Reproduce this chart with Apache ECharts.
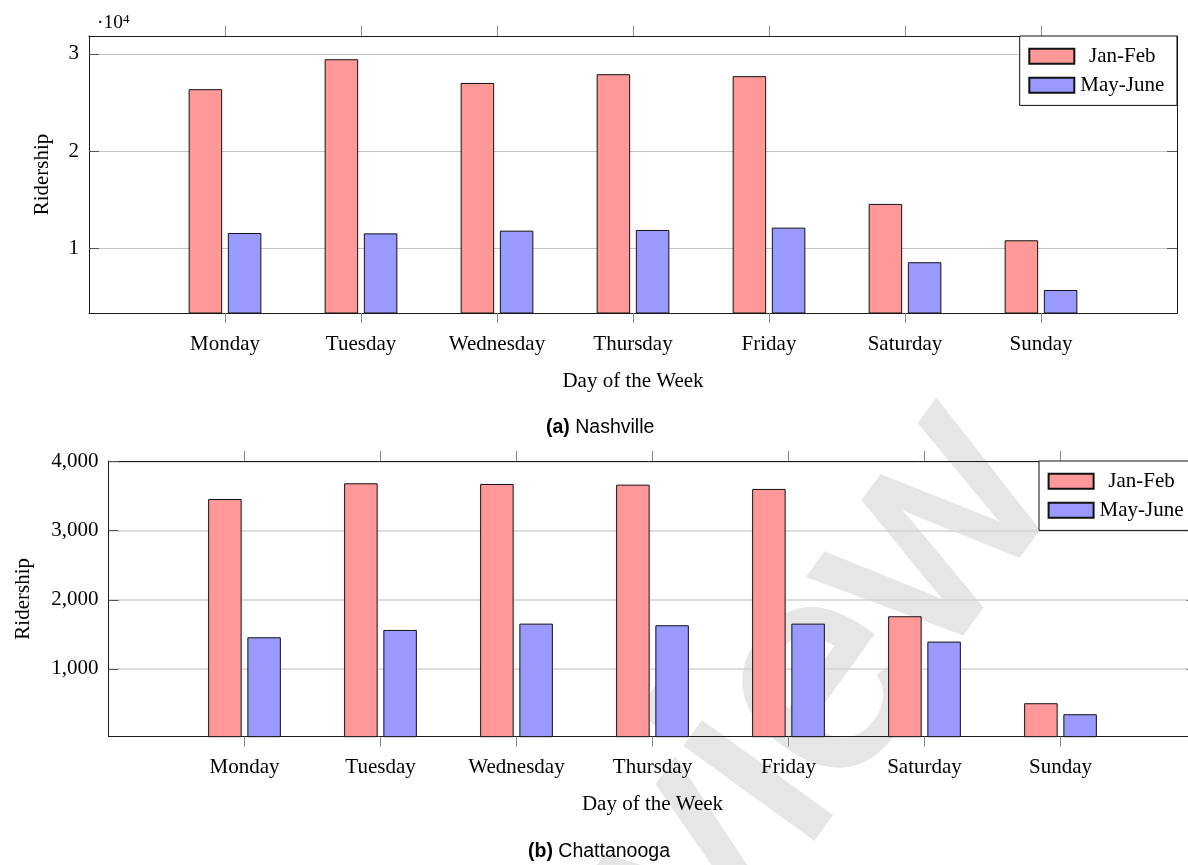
<!DOCTYPE html>
<html>
<head>
<meta charset="utf-8">
<script src="https://cdn.jsdelivr.net/npm/echarts@6/dist/echarts.min.js"></script>
<style>
html,body{margin:0;padding:0;background:#fff;}
#chart{width:1188px;height:865px;}
</style>
</head>
<body>
<div id="chart"></div>
<script>
// ---- data ----
var days = ['Monday', 'Tuesday', 'Wednesday', 'Thursday', 'Friday', 'Saturday', 'Sunday'];
var seriesNames = ['Jan-Feb', 'May-June'];
var nashvilleJanFeb = [26370, 29450, 27010, 27910, 27710, 14570, 10830];
var nashvilleMayJune = [11580, 11540, 11820, 11890, 12130, 8570, 5720];
var chattJanFeb = [3458, 3685, 3675, 3665, 3603, 1762, 504];
var chattMayJune = [1458, 1564, 1655, 1632, 1655, 1395, 345];
var nashvilleTicks = [10000, 20000, 30000];
var chattTicks = [1000, 2000, 3000, 4000];
var captionA = ['(a)', 'Nashville'];
var captionB = ['(b)', 'Chattanooga'];
var xTitle = 'Day of the Week';
var yTitle = 'Ridership';
var watermark = 'Review';

// ---- styles ----
var SERIF = 'Liberation Serif';
var SANS = 'Liberation Sans';
var PINK = '#ff9999';
var BLUE = '#9999ff';
var FS = 21;

var padCats = [''].concat(days).concat(['']);
function pad(arr) { return ['-'].concat(arr).concat(['-']); }
var n = days.length;
function tickShow(i) { return i > 0 && i < n + 1; }

function xAxes(gridIndex) {
  var common = {
    type: 'category', gridIndex: gridIndex, data: padCats, boundaryGap: false,
    axisLine: { show: true, lineStyle: { color: '#1a1a1a', width: 1 } },
    axisTick: { show: true, interval: tickShow, length: 10, lineStyle: { color: '#8a8a8a', width: 1 } },
    splitLine: { show: false }
  };
  var bottom = Object.assign({}, common, {
    position: 'bottom',
    axisLabel: { interval: 0, margin: 20.5, color: '#000', fontFamily: SERIF, fontSize: FS },
    name: xTitle, nameLocation: 'middle', nameGap: 57.5,
    nameTextStyle: { color: '#000', fontFamily: SERIF, fontSize: FS }
  });
  var top = Object.assign({}, common, { position: 'top', axisLabel: { show: false } });
  return [bottom, top];
}

function yAxes(gridIndex, min, max, ticks, fmt, nameGap, gridColor, gridWidth) {
  var left = {
    type: 'value', gridIndex: gridIndex, position: 'left', min: min, max: max,
    axisLine: { show: true, lineStyle: { color: '#1a1a1a', width: 1 } },
    axisTick: { show: true, inside: true, length: 10, customValues: ticks, lineStyle: { color: '#555', width: 1 } },
    axisLabel: { customValues: ticks, formatter: fmt, margin: 10, color: '#000', fontFamily: SERIF, fontSize: FS },
    splitLine: { show: true, lineStyle: { color: gridColor, width: gridWidth } },
    name: yTitle, nameLocation: 'middle', nameGap: nameGap,
    nameTextStyle: { color: '#000', fontFamily: SERIF, fontSize: FS }
  };
  var right = {
    type: 'value', gridIndex: gridIndex, position: 'right', min: min, max: max,
    axisLine: { show: true, lineStyle: { color: '#1a1a1a', width: 1 } },
    axisTick: { show: true, inside: true, length: 10, customValues: ticks, lineStyle: { color: '#555', width: 1 } },
    axisLabel: { show: false, customValues: ticks },
    splitLine: { show: false }
  };
  return [left, right];
}

function bar(name, color, data, xi, yi) {
  return {
    type: 'bar', name: name, xAxisIndex: xi, yAxisIndex: yi, data: pad(data),
    barWidth: 33.5, barGap: '17%',
    itemStyle: { color: color, borderColor: '#111', borderWidth: 1 },
    emphasis: { disabled: true }, animation: false
  };
}

function legend(left, top) {
  return {
    orient: 'vertical', left: left, top: top,
    data: seriesNames,
    itemWidth: 45, itemHeight: 15, itemGap: 8,
    padding: [9.7, 12.7, 9.7, 8.6],
    backgroundColor: '#fff', borderColor: '#111', borderWidth: 1,
    icon: 'rect',
    selectedMode: false,
    formatter: '{t|{name}}',
    textStyle: {
      color: '#000', fontFamily: SERIF, fontSize: FS,
      rich: { t: { width: 86, align: 'center', fontFamily: SERIF, fontSize: FS, color: '#000' } }
    }
  };
}

var chart = echarts.init(document.getElementById('chart'), null, { renderer: 'canvas' });
var xa0 = xAxes(0), xa1 = xAxes(1);
var ya0 = yAxes(0, 3350, 31840, nashvilleTicks, function (v) { return String(v / 10000); }, 36, '#c4c4c4', 1);
var ya1 = yAxes(1, 20, 4007, chattTicks, function (v) { return v.toLocaleString('en-US'); }, 75, '#d2d2d2', 1.5);

var option = {
  backgroundColor: '#fff',
  animation: false,
  textStyle: { fontFamily: SERIF },
  grid: [
    { left: 89, top: 36, width: 1088, height: 277, containLabel: false, outerBoundsMode: 'none' },
    { left: 108.5, top: 461, width: 1088, height: 275.7, containLabel: false, outerBoundsMode: 'none' }
  ],
  title: [
    { text: '{b|' + captionA[0] + '} ' + captionA[1], left: 546, top: 418, padding: 0,
      textStyle: { fontFamily: SANS, fontSize: 19.5, fontWeight: 'normal', color: '#000',
        rich: { b: { fontFamily: SANS, fontSize: 19.5, fontWeight: 'bold', color: '#000' } } } },
    { text: '{b|' + captionB[0] + '} ' + captionB[1], left: 528, top: 842, padding: 0,
      textStyle: { fontFamily: SANS, fontSize: 19.5, fontWeight: 'normal', color: '#000',
        rich: { b: { fontFamily: SANS, fontSize: 19.5, fontWeight: 'bold', color: '#000' } } } },
    { text: '·10{s|4}', left: 97, top: 13, padding: 0,
      textStyle: { fontFamily: SERIF, fontSize: 19.5, fontWeight: 'normal', color: '#000',
        rich: { s: { fontFamily: SERIF, fontSize: 13, verticalAlign: 'top', color: '#000' } } } }
  ],
  legend: [legend(1019.7, 36), legend(1039, 461)],
  xAxis: [xa0[0], xa0[1], xa1[0], xa1[1]],
  yAxis: [ya0[0], ya0[1], ya1[0], ya1[1]],
  series: [
    bar(seriesNames[0], PINK, nashvilleJanFeb, 0, 0),
    bar(seriesNames[1], BLUE, nashvilleMayJune, 0, 0),
    bar(seriesNames[0], PINK, chattJanFeb, 2, 2),
    bar(seriesNames[1], BLUE, chattMayJune, 2, 2)
  ],
  graphic: [
    { type: 'text', x: 712, y: 838, rotation: 54 * Math.PI / 180, z: -100, silent: true,
      style: { text: watermark, fill: '#e6e6e6', stroke: '#e6e6e6', lineWidth: 6, lineJoin: 'round',
        font: 'normal 295px "Liberation Sans"', align: 'center', verticalAlign: 'middle' } }
  ]
};
chart.setOption(option);
</script>
</body>
</html>
